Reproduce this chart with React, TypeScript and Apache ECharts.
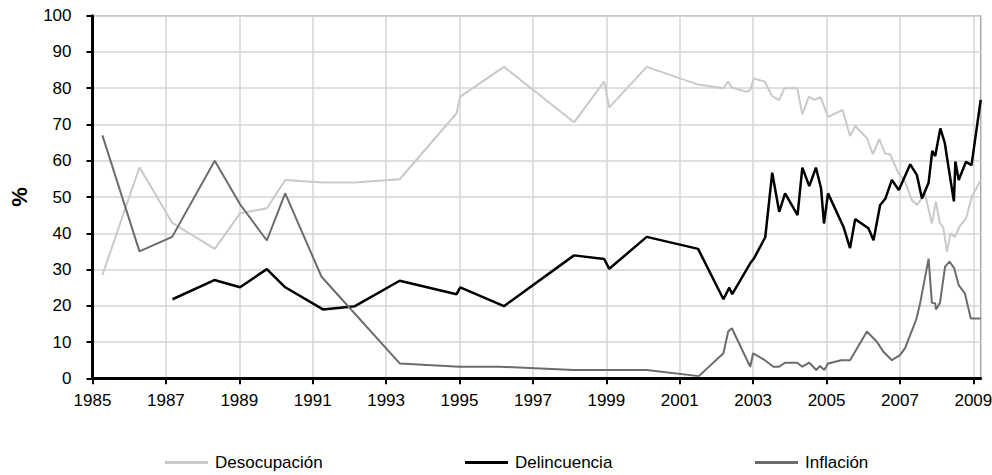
import React, { useEffect, useRef } from "react";
import * as echarts from "echarts";

const BASE_YEAR = 1985;
const tickYears = [1985, 1987, 1989, 1991, 1993, 1995, 1997, 1999, 2001, 2003, 2005, 2007, 2009];
const yTicks = [0, 10, 20, 30, 40, 50, 60, 70, 80, 90, 100];

const desocYears = [
  1985.27, 1986.28, 1987.17, 1988.33, 1989.02, 1989.75, 1990.25, 1991.27, 1992.15, 1993.37,
  1994.92, 1995.02, 1996.21, 1998.12, 1998.94, 1999.08, 2000.1, 2001.5, 2002.19, 2002.32,
  2002.42, 2002.83, 2002.92, 2003.02, 2003.32, 2003.51, 2003.71, 2003.85, 2004.2, 2004.34,
  2004.52, 2004.66, 2004.84, 2005.04, 2005.44, 2005.64, 2005.78, 2006.1, 2006.26, 2006.44,
  2006.59, 2006.73, 2006.96, 2007.14, 2007.32, 2007.47, 2007.68, 2007.87, 2007.98, 2008.09,
  2008.18, 2008.28, 2008.38, 2008.5, 2008.62, 2008.8, 2008.96, 2009.2,
];
const desocValues = [
  28.5, 58.2, 42.9, 35.7, 45.5, 46.9, 54.7, 54.0, 54.0, 54.9,
  73.1, 77.7, 85.9, 70.6, 81.8, 74.7, 85.9, 81.0, 80.0, 81.8,
  80.2, 79.0, 79.5, 82.7, 81.8, 77.9, 76.7, 80.0, 80.0, 72.8,
  77.7, 76.8, 77.5, 72.1, 74.0, 66.8, 69.6, 66.2, 61.8, 66.0,
  62.0, 61.8, 56.5, 54.2, 49.2, 47.8, 51.0, 42.7, 48.7, 42.7,
  41.6, 34.9, 40.0, 39.0, 41.8, 44.1, 50.1, 54.7,
];

const delincYears = [
  1987.18, 1988.32, 1989.02, 1989.75, 1990.25, 1991.28, 1992.15, 1993.37, 1994.92, 1995.02,
  1996.21, 1998.12, 1998.94, 1999.08, 2000.1, 2001.5, 2002.19, 2002.35, 2002.43, 2002.92,
  2003.03, 2003.33, 2003.52, 2003.71, 2003.87, 2004.21, 2004.34, 2004.53, 2004.71, 2004.85,
  2004.93, 2005.04, 2005.46, 2005.64, 2005.78, 2006.14, 2006.28, 2006.46, 2006.6, 2006.78,
  2006.97, 2007.28, 2007.46, 2007.6, 2007.78, 2007.88, 2007.96, 2008.1, 2008.22, 2008.32,
  2008.47, 2008.51, 2008.6, 2008.8, 2008.95, 2009.2,
];
const delincValues = [
  21.8, 27.1, 25.1, 30.1, 25.1, 19.0, 19.9, 26.9, 23.2, 25.1,
  19.9, 33.9, 32.9, 30.2, 39.0, 35.7, 21.8, 25.0, 23.2, 31.7,
  33.2, 38.9, 56.7, 45.9, 51.0, 45.0, 58.1, 53.0, 58.1, 52.4,
  42.7, 51.0, 41.8, 35.9, 43.9, 41.4, 38.1, 47.8, 49.5, 54.7,
  51.9, 59.0, 56.1, 49.6, 53.9, 62.7, 61.3, 68.9, 65.0, 58.4,
  48.8, 59.8, 54.7, 59.7, 58.8, 76.8,
];

const inflYears = [
  1985.27, 1986.28, 1987.17, 1988.33, 1989.02, 1989.75, 1990.25, 1991.24, 1993.37, 1995.0,
  1996.1, 1998.1, 2000.1, 2001.52, 2002.19, 2002.32, 2002.42, 2002.92, 2003.0, 2003.32,
  2003.55, 2003.71, 2003.87, 2004.2, 2004.34, 2004.53, 2004.72, 2004.82, 2004.94, 2005.04,
  2005.4, 2005.64, 2006.1, 2006.37, 2006.55, 2006.78, 2007.0, 2007.14, 2007.44, 2007.55,
  2007.78, 2007.87, 2007.96, 2007.98, 2008.09, 2008.23, 2008.35, 2008.48, 2008.6, 2008.77,
  2008.93, 2009.2,
];
const inflValues = [
  67.0, 35.0, 39.0, 60.0, 48.0, 38.0, 51.0, 28.0, 4.1, 3.2,
  3.2, 2.3, 2.3, 0.6, 6.9, 12.9, 13.8, 3.2, 6.9, 5.0,
  3.2, 3.2, 4.3, 4.3, 3.2, 4.3, 2.3, 3.4, 2.3, 4.1,
  5.0, 5.0, 12.9, 10.1, 7.3, 5.0, 6.4, 8.3, 16.1, 20.7,
  33.0, 20.8, 20.7, 19.0, 20.8, 30.8, 32.2, 30.3, 25.7, 23.4,
  16.5, 16.5,
];

const seriesNames = ["Desocupación", "Delincuencia", "Inflación"];
const seriesColors = ["#c9c9cc", "#000000", "#6c6c6c"];

const FONT = "'Liberation Sans', Arial, sans-serif";

function zip(years: number[], values: number[]) {
  return years.map((y, i) => [y - BASE_YEAR, values[i]]);
}

export default function App() {
  const ref = useRef<HTMLDivElement>(null);
  useEffect(() => {
    if (!ref.current) return;
    const chart = echarts.init(ref.current, null, { renderer: "svg" });
    const tickOffsets = tickYears.map((y) => y - BASE_YEAR);
    const legendLefts = [165, 465, 755];
    chart.setOption({
      animation: false,
      textStyle: { fontFamily: FONT },
      grid: {
        left: 92.5,
        right: 11.3,
        top: 15.7,
        bottom: 96.7,
        show: true,
        borderColor: "#a8a8a8",
        borderWidth: 1.5,
        outerBoundsMode: "none",
        containLabel: false,
      },
      legend: seriesNames.map((n, i) => ({
        data: [n],
        left: legendLefts[i],
        top: 454,
        padding: 0,
        icon: "rect",
        itemWidth: 43,
        itemHeight: 3,
        textStyle: { fontFamily: FONT, fontSize: 17, color: "#000", padding: [0, 0, 0, 2] },
        selectedMode: false,
      })),
      xAxis: {
        type: "value",
        min: 0,
        max: 24.2,
        interval: 2,
        axisLine: { show: true, lineStyle: { color: "#000", width: 3 } },
        axisTick: {
          show: true,
          length: 6,
          lineStyle: { color: "#000", width: 2 },
          customValues: tickOffsets,
        },
        axisLabel: {
          customValues: tickOffsets,
          formatter: (v: number) => String(Math.round(v + BASE_YEAR)),
          fontFamily: FONT,
          fontSize: 17,
          color: "#000",
          margin: 14,
        },
        splitLine: { show: true, lineStyle: { color: "#d4d4d4", width: 1.5 } },
      },
      yAxis: {
        type: "value",
        min: yTicks[0],
        max: yTicks[yTicks.length - 1],
        interval: 10,
        name: "%",
        nameLocation: "middle",
        nameGap: 62,
        nameTextStyle: { fontFamily: FONT, fontSize: 22, fontWeight: "bold", color: "#000" },
        axisLine: { show: true, lineStyle: { color: "#000", width: 3 } },
        axisTick: { show: true, length: 6, lineStyle: { color: "#000", width: 2 } },
        axisLabel: { fontFamily: FONT, fontSize: 17, color: "#000", margin: 21 },
        splitLine: { show: true, lineStyle: { color: "#d4d4d4", width: 1.5 } },
      },
      series: [
        {
          name: seriesNames[0],
          type: "line",
          data: zip(desocYears, desocValues),
          symbol: "none",
          color: seriesColors[0],
          lineStyle: { color: seriesColors[0], width: 2 },
        },
        {
          name: seriesNames[1],
          type: "line",
          data: zip(delincYears, delincValues),
          symbol: "none",
          color: seriesColors[1],
          lineStyle: { color: seriesColors[1], width: 2.5 },
        },
        {
          name: seriesNames[2],
          type: "line",
          data: zip(inflYears, inflValues),
          symbol: "none",
          color: seriesColors[2],
          lineStyle: { color: seriesColors[2], width: 2 },
        },
      ],
    });
    return () => chart.dispose();
  }, []);
  return (
    <div
      ref={ref}
      style={{ position: "fixed", left: 0, top: 0, width: 992, height: 475, background: "#fff" }}
    />
  );
}
